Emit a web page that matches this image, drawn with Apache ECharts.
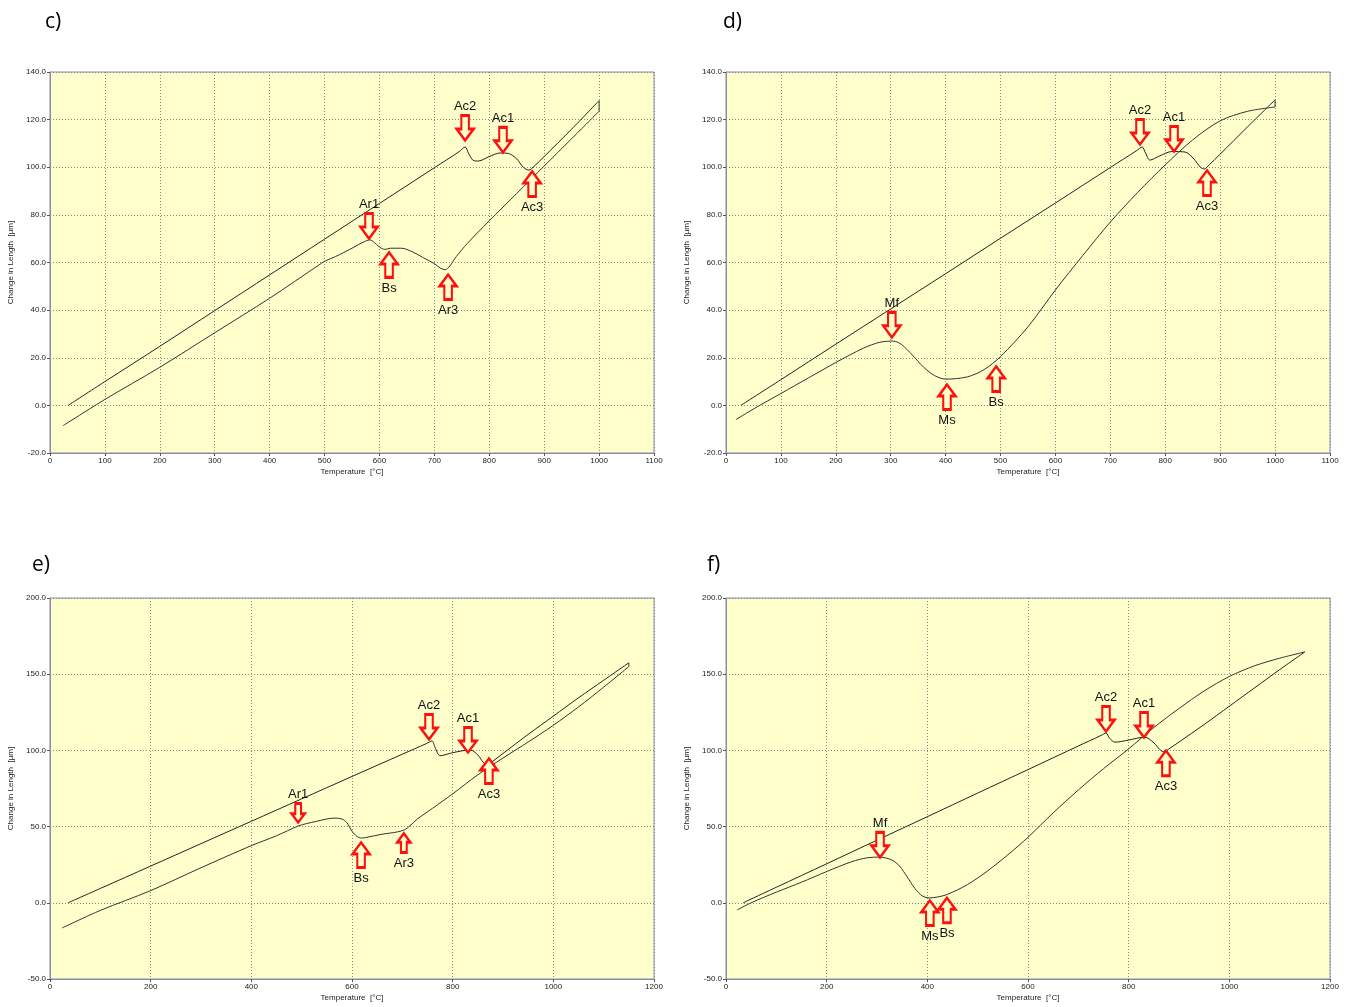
<!DOCTYPE html>
<html>
<head>
<meta charset="utf-8">
<script src="https://cdn.jsdelivr.net/npm/echarts@6/dist/echarts.min.js"></script>
<style>
html,body{margin:0;padding:0;background:#fff;}
#chart{width:1354px;height:1007px;}
</style>
</head>
<body>
<div id="chart"></div>
<script>
// panel c) : heating then cooling, [temperature, change in length]
var cHeat = [[33,0],[100,10],[200,24.8],[300,39.8],[400,54.8],[500,69.8],[600,84.8],[700,99.8],[745,106.5],[756,108.5],[762,106],[770,103],[780,102.6],[800,104.5],[820,106],[835,105.8],[850,103.5],[862,100],[872,98.8],[882,100.5],[900,104.5],[950,116],[1000,128]];
var cCool = [[1000,123.5],[950,112],[900,100.5],[850,89],[800,77.5],[760,68],[740,62.5],[728,58.5],[720,57],[712,57.5],[700,59.5],[680,62],[660,64.5],[640,66],[620,66],[610,65.5],[600,66.5],[590,68.5],[583,69.5],[570,68.5],[550,66],[520,62.5],[500,60.5],[490,59],[400,45],[300,30.5],[200,16],[100,2.5],[24,-8.5]];
// panel d)
var dHeat = [[27,0],[100,10.8],[200,25.7],[300,40.5],[400,55.3],[500,70.2],[600,85],[700,99.9],[748,107],[758,108.5],[764,106],[772,103],[790,104.8],[812,106.6],[836,106.4],[852,103.5],[864,100],[871,99.3],[880,101],[900,105.5],[950,117],[1000,128.3]];
var dCool = [[1000,125.3],[950,123.5],[900,119.5],[850,111.5],[800,101],[750,89.5],[700,77],[650,63],[600,48.5],[550,33],[500,20.5],[470,15],[440,12],[400,11],[380,12.5],[360,16],[340,21],[320,25.5],[305,27],[280,26.5],[250,24],[200,18],[150,11.5],[100,5],[50,-1.5],[18,-6]];
// panel e)
var eHeat = [[36,0],[100,9.4],[200,24.1],[300,38.8],[400,53.5],[500,68.2],[600,82.9],[700,97.5],[748,104.5],[759,106.2],[765,102],[775,96.5],[800,98.5],[835,100.3],[850,97],[860,92.5],[868,90.4],[880,93],[900,98],[950,110.5],[1000,122.5],[1050,134.5],[1100,146],[1150,157.5]];
var eCool = [[1150,155],[1100,141.5],[1050,128.5],[1000,116.5],[950,105.5],[900,95],[850,84],[800,71.5],[760,62],[730,55],[715,50.5],[705,48],[690,46.5],[660,45],[630,43],[619,42.5],[610,43.5],[600,47],[590,52.5],[580,55],[566,55.6],[550,55],[530,53.5],[510,52],[493,50.4],[450,44],[400,37.5],[300,23],[200,8],[100,-5],[24,-16.5]];
// panel f)
var fHeat = [[34,0],[100,10.2],[200,25.6],[300,41.1],[400,56.5],[500,72],[600,87.4],[700,102.9],[745,109.8],[755,111.4],[762,108],[773,105.4],[800,106.8],[832,108.7],[850,105],[862,100.5],[870,99],[880,101],[900,105.5],[950,117],[1000,129],[1050,141],[1100,153],[1150,164.6]];
var fCool = [[1150,164.6],[1100,160.5],[1050,155.5],[1000,148.5],[950,139],[900,127.5],[850,115],[800,101],[750,88],[700,74],[650,59],[600,43],[560,31.5],[520,21],[480,12],[440,5.5],[420,3.8],[405,3.2],[390,4.5],[375,9.5],[360,17],[345,24],[330,28],[306,30],[280,29.5],[250,27],[200,20.5],[150,13.5],[100,7],[50,0],[22,-4.7]];

// arrows: [temperature, length, label, direction]
var cArrows = [[756,116.5,'Ac2','down'],[825,111.5,'Ac1','down'],[878,93,'Ac3','up'],[581,75.3,'Ar1','down'],[617.5,59,'Bs','up'],[725,49.7,'Ar3','up']];
var dArrows = [[754,114.8,'Ac2','down'],[816,111.9,'Ac1','down'],[876,93.4,'Ac3','up'],[302,33.8,'Mf','down'],[402.5,3.5,'Ms','up'],[492,11.1,'Bs','up']];
var eArrows = [[753,115.4,'Ac2','down'],[830.5,106.8,'Ac1','down'],[872,86.5,'Ac3','up'],[493,58.9,'Ar1','down'],[618,31.4,'Bs','up'],[703,39.3,'Ar3','up']];
var fArrows = [[755,120.6,'Ac2','down'],[830.5,116.7,'Ac1','down'],[874,91.6,'Ac3','up'],[306,38,'Mf','down'],[405,-6.7,'Ms','up'],[439,-4.9,'Bs','up']];

var panelLabels = ['c)','d)','e)','f)'];
var xMax = [1100,1100,1200,1200];
var xStep = [100,100,200,200];
var yMin = [-20,-20,-50,-50];
var yMax = [140,140,200,200];
var yStep = [20,20,50,50];

var downArrow = 'path://M5,0 L13,0 L13,14 L18,14 L9,26 L0,14 L5,14 Z';
var upArrow = 'path://M9,0 L18,12 L13,12 L13,26 L5,26 L5,12 L0,12 Z';
// the two smaller arrows of panel e)
var smallArrows = ['e-Ar1','e-Ar3'];
var panelKeys = ['c','d','e','f'];

var myChart = echarts.init(document.getElementById('chart'));

var grids = [
    {left:50, top:72, width:604, height:381},
    {left:726, top:72, width:604, height:381},
    {left:50, top:598, width:604, height:381},
    {left:726, top:598, width:604, height:381}
];
var titlePos = [[40,7],[718,7],[27,550],[702,550]];

var xAxes = [], yAxes = [], titles = [], series = [];
var heats = [cHeat,dHeat,eHeat,fHeat];
var cools = [cCool,dCool,eCool,fCool];
var arrows = [cArrows,dArrows,eArrows,fArrows];

for (var i = 0; i < 4; i++) {
    grids[i].show = true;
    grids[i].backgroundColor = '#ffffcc';
    grids[i].borderColor = '#8a8aaa';
    grids[i].borderWidth = 1;
    titles.push({
        text: panelLabels[i], left: titlePos[i][0], top: titlePos[i][1],
        textStyle: {fontFamily: 'Open Sans', fontSize: 21, fontWeight: 'normal', color: '#000'}
    });
    xAxes.push({
        type: 'value', gridIndex: i, min: 0, max: xMax[i], interval: xStep[i],
        name: 'Temperature  [°C]', nameLocation: 'middle', nameGap: 15,
        nameTextStyle: {fontFamily: 'Liberation Sans', fontSize: 8, color: '#222'},
        axisLine: {onZero: false, lineStyle: {color: '#8a8aaa'}},
        axisTick: {show: true, length: 3, lineStyle: {color: '#555'}},
        axisLabel: {fontFamily: 'Liberation Sans', fontSize: 8, color: '#222', margin: 4,
            formatter: function (v) { return String(v); }},
        splitLine: {show: true, lineStyle: {color: '#888', type: [1, 2], width: 1}}
    });
    yAxes.push({
        type: 'value', gridIndex: i, min: yMin[i], max: yMax[i], interval: yStep[i],
        name: 'Change in Length  [µm]', nameLocation: 'middle', nameGap: 35, nameRotate: 90,
        nameTextStyle: {fontFamily: 'Liberation Sans', fontSize: 8, color: '#222'},
        axisLine: {show: true, onZero: false, lineStyle: {color: '#8a8aaa'}},
        axisTick: {show: true, length: 3, lineStyle: {color: '#555'}},
        axisLabel: {fontFamily: 'Liberation Sans', fontSize: 8, color: '#222', margin: 4,
            formatter: function (v) { return v.toFixed(1); }},
        splitLine: {show: true, lineStyle: {color: '#888', type: [1, 2], width: 1}}
    });
    var h = heats[i], c = cools[i];
    series.push({
        type: 'line', xAxisIndex: i, yAxisIndex: i, data: h,
        showSymbol: false, smooth: 0.3, lineStyle: {color: '#222', width: 1}, z: 3
    });
    series.push({
        type: 'line', xAxisIndex: i, yAxisIndex: i, data: c,
        showSymbol: false, smooth: 0.3, lineStyle: {color: '#333', width: 1}, z: 3
    });
    // short joint where heating turns into cooling
    series.push({
        type: 'line', xAxisIndex: i, yAxisIndex: i, data: [h[h.length - 1], c[0]],
        showSymbol: false, lineStyle: {color: '#333', width: 1}, z: 3
    });
    series.push({
        type: 'scatter', xAxisIndex: i, yAxisIndex: i, z: 5,
        data: arrows[i].map(function (a) {
            var up = a[3] === 'up';
            var small = smallArrows.indexOf(panelKeys[i] + '-' + a[2]) >= 0;
            return {
                value: [a[0], a[1]],
                symbol: up ? upArrow : downArrow,
                symbolSize: small ? [13, 19] : [17, 25],
                label: {show: true, formatter: a[2], position: up ? 'bottom' : 'top', distance: up ? 3 : 1}
            };
        }),
        itemStyle: {color: '#ffffcc', borderColor: '#ff1010', borderWidth: 2.5, opacity: 1},
        label: {fontFamily: 'Liberation Sans', fontSize: 13, color: '#111'},
        emphasis: {disabled: true}
    });
}

var option = {
    backgroundColor: '#fff',
    animation: false,
    title: titles,
    grid: grids,
    xAxis: xAxes,
    yAxis: yAxes,
    series: series
};
myChart.setOption(option);
</script>
</body>
</html>
